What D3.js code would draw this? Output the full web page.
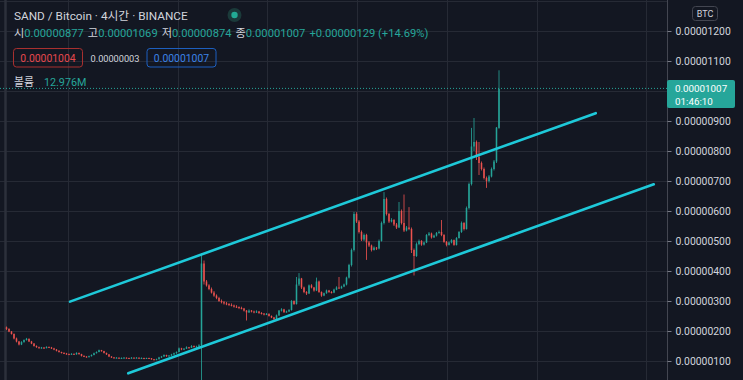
<!DOCTYPE html>
<html>
<head>
<meta charset="utf-8">
<script src="https://cdn.jsdelivr.net/npm/d3@7"></script>
<style>
  html, body { margin: 0; padding: 0; background: #131722; }
  svg { display: block; font-family: Roboto, "Noto Sans CJK KR", sans-serif; }
</style>
</head>
<body>
<div class="chart"></div>
<script>
// prices are in units of 0.00000001 BTC, one row per 4h candle: [open, high, low, close]
var candles = [
  [212,215,203,207],[207,209,196,198],[198,200,188,190],[190,192,172,175],[175,178,162,165],
  [165,167,152,155],[155,166,153,163],[163,172,161,170],[170,177,168,174],[174,175,163,165],
  [165,167,156,158],[158,160,148,150],[150,152,144,146],[146,148,141,143],[143,147,141,145],
  [145,146,140,143],[143,149,142,147],[147,148,143,145],[145,147,140,142],[142,144,136,138],
  [138,140,132,134],[134,136,128,130],[130,131,125,127],[127,129,123,125],[125,127,121,123],
  [123,125,120,122],[122,126,121,124],[124,125,120,122],[122,129,121,127],[127,128,121,123],
  [123,124,115,117],[117,119,113,115],[115,116,111,113],[113,118,112,116],[116,122,115,120],
  [120,128,119,126],[126,132,125,130],[130,138,129,136],[136,137,131,133],[133,134,125,127],
  [127,128,120,122],[122,123,113,115],[115,116,110,112],[112,113,108,110],[110,113,109,111],
  [111,112,107,109],[109,112,108,110],[110,113,109,111],[111,112,108,110],[110,111,107,109],
  [109,113,108,111],[111,112,108,110],[110,113,109,111],[111,112,107,109],[109,112,108,110],
  [110,111,106,108],[108,111,107,110],[110,111,107,109],[109,110,104,106],[106,107,102,104],
  [104,108,103,106],[106,114,105,112],[112,117,110,115],[115,122,114,120],[120,121,114,116],
  [116,120,115,118],[118,124,117,122],[122,128,120,126],[126,132,124,130],[130,145,129,142],
  [142,144,136,139],[139,143,137,141],[141,149,140,146],[146,147,141,144],[144,153,143,150],
  [150,152,145,147],[147,151,145,148],[148,156,147,152],[152,459,25,425],[425,435,355,365],
  [365,370,348,352],[352,356,336,340],[340,345,325,328],[328,333,314,318],[318,322,306,310],
  [310,314,297,300],[300,305,292,296],[296,300,288,292],[292,297,286,290],[290,293,283,287],
  [287,292,282,285],[285,288,278,281],[281,286,277,280],[280,282,273,277],[277,281,272,275],
  [275,277,265,268],[268,270,235,262],[262,272,260,268],[268,270,262,265],[265,268,259,262],
  [262,269,260,265],[265,267,257,260],[260,263,255,258],[258,260,252,255],[255,260,253,257],
  [257,259,248,250],[250,252,243,245],[245,247,230,240],[240,255,238,252],[252,270,250,268],
  [268,276,265,272],[272,274,260,263],[263,268,261,265],[265,273,263,270],[270,303,268,300],
  [300,302,287,290],[290,380,288,355],[355,393,350,375],[375,377,340,345],[345,348,326,330],
  [330,333,320,325],[325,355,323,352],[352,356,342,345],[345,347,331,335],[335,378,333,365],
  [365,368,327,330],[330,332,314,318],[318,328,316,326],[326,338,324,335],[335,337,327,330],
  [330,333,325,328],[328,341,326,338],[338,349,336,345],[345,380,340,342],[342,351,341,348],
  [348,358,346,355],[355,381,352,378],[378,424,375,420],[420,475,415,470],[470,597,465,590],
  [590,596,560,565],[565,570,525,530],[530,535,500,505],[505,525,500,520],[520,524,437,495],
  [495,500,480,485],[485,488,465,470],[470,482,468,478],[478,480,470,475],[475,505,472,500],
  [500,565,498,560],[560,663,555,640],[640,645,585,590],[590,594,560,565],[565,576,562,570],
  [570,573,550,555],[555,560,540,545],[545,630,543,600],[600,605,555,560],[560,655,530,535],
  [535,550,532,545],[545,613,536,540],[540,545,460,470],[470,475,385,450],[450,495,447,490],
  [490,505,486,500],[500,503,484,488],[488,498,485,495],[495,523,493,520],[520,530,516,525],
  [525,528,508,512],[512,521,510,518],[518,530,515,527],[527,535,524,530],[530,570,516,520],
  [520,523,494,497],[497,500,482,487],[487,498,485,495],[495,506,492,503],[503,505,484,487],
  [487,513,485,510],[510,533,508,530],[530,565,527,560],[560,563,535,540],[540,615,538,610],
  [610,695,605,690],[690,877,685,815],[815,910,800,830],[830,835,770,780],[780,830,720,760],
  [760,765,735,740],[740,745,705,710],[710,715,677,700],[700,720,695,715],[715,745,712,740],
  [740,770,735,765],[765,880,760,878],[877,1069,874,1007]
];

// price axis labels (0.00001000 sits under the last-price tag, so it is not shown) and grid
var priceTicks = [100,200,300,400,500,600,700,800,900,1100,1200];
var priceGrid = [100,200,300,400,500,600,700,800,900,1000,1100,1200,1300];
// vertical grid lines, in candle index units
var timeGrid = [-0.8, 24.7, 68.5, 104.2, 140.1, 176.1, 212.1, 255.8];

// parallel channel drawn on the chart: [candle index, price]
var upperLine = [[25.4, 298], [235.7, 926]];
var lowerLine = [[48.7, 59], [258.9, 689]];

var lastPrice = 1007;
var ohlc = [["시", "0.00000877"], ["고", "0.00001069"], ["저", "0.00000874"], ["종", "0.00001007"]];
var change = "+0.00000129 (+14.69%)";

var svgWidth = 743, svgHeight = 380;
var plotRight = 667;

var upColor = "#26a69a", downColor = "#ef5350";
var gridColor = "#262a35";
var textColor = "#d1d4dc";

var svg = d3.select(".chart").append("svg")
  .attr("width", svgWidth)
  .attr("height", svgHeight);

svg.append("rect").attr("width", svgWidth).attr("height", svgHeight).attr("fill", "#131722");

var x = d3.scaleLinear().domain([0, candles.length - 1]).range([6.5, 499]);
var y = d3.scaleLinear().domain([0, 1300]).range([391, 1]);

var fmt = d => (d / 1e8).toFixed(8);

// grid
svg.append("g").selectAll("line").data(priceGrid).enter().append("line")
  .attr("x1", 0).attr("x2", plotRight)
  .attr("y1", d => Math.round(y(d)) + 0.5).attr("y2", d => Math.round(y(d)) + 0.5)
  .attr("stroke", gridColor).attr("stroke-width", 1);

svg.append("g").selectAll("line").data(timeGrid).enter().append("line")
  .attr("x1", d => Math.round(x(d)) + 0.5).attr("x2", d => Math.round(x(d)) + 0.5)
  .attr("y1", 0).attr("y2", svgHeight)
  .attr("stroke", (d, i) => i === 0 ? "#2c303b" : gridColor).attr("stroke-width", (d, i) => i === 0 ? 2.5 : 1);

// candles
var candleG = svg.append("g");
candleG.selectAll("line").data(candles).enter().append("line")
  .attr("x1", (d, i) => x(i)).attr("x2", (d, i) => x(i))
  .attr("y1", d => y(d[1])).attr("y2", d => y(d[2]))
  .attr("stroke", d => d[3] >= d[0] ? upColor : downColor)
  .attr("stroke-width", 0.9)
  .attr("opacity", 0.9);

candleG.selectAll("rect").data(candles).enter().append("rect")
  .attr("x", (d, i) => x(i) - 0.8)
  .attr("width", 1.6)
  .attr("y", d => y(Math.max(d[0], d[3])))
  .attr("height", d => Math.max(1, Math.abs(y(d[0]) - y(d[3]))))
  .attr("fill", d => d[3] >= d[0] ? upColor : downColor)
  .attr("opacity", 0.9);

// channel lines
var line = d3.line().x(d => x(d[0])).y(d => y(d[1]));
[upperLine, lowerLine].forEach(function(pts) {
  svg.append("path").attr("d", line(pts))
    .attr("fill", "none")
    .attr("stroke", "#1ec9d9")
    .attr("stroke-width", 2.6)
    .attr("stroke-linecap", "round");
});

// current price dotted line
svg.append("line")
  .attr("x1", 0).attr("x2", plotRight)
  .attr("y1", y(lastPrice) - 0.5).attr("y2", y(lastPrice) - 0.5)
  .attr("stroke", upColor).attr("stroke-width", 1)
  .attr("stroke-dasharray", "1,2");

// price axis
var axisG = svg.append("g");
axisG.append("rect").attr("x", plotRight).attr("y", 0).attr("width", svgWidth - plotRight).attr("height", svgHeight).attr("fill", "#131722");
axisG.append("line").attr("x1", plotRight + 0.5).attr("x2", plotRight + 0.5).attr("y1", 0).attr("y2", svgHeight)
  .attr("stroke", "#434651").attr("stroke-width", 1);

var yAxis = d3.axisRight(y).tickValues(priceTicks).tickFormat(fmt).tickSize(4).tickPadding(4);
axisG.append("g")
  .attr("transform", `translate(${plotRight + 0.5},0)`)
  .call(yAxis)
  .call(g => g.select(".domain").remove())
  .call(g => g.selectAll(".tick line").attr("stroke", "#787b86"))
  .call(g => g.selectAll(".tick text")
    .attr("fill", textColor)
    .attr("font-size", "10.4px")
    .attr("font-family", "Roboto, sans-serif"));

// BTC currency box
axisG.append("rect").attr("x", 692.5).attr("y", 6.5).attr("width", 25).attr("height", 14).attr("rx", 3)
  .attr("fill", "none").attr("stroke", "#434651");
axisG.append("text").attr("x", 705).attr("y", 17).attr("text-anchor", "middle")
  .attr("fill", textColor).attr("font-size", "9px").text("BTC");

// last price label
var py = y(lastPrice);
axisG.append("rect").attr("x", plotRight).attr("y", py - 9).attr("width", 68).attr("height", 28).attr("rx", 2)
  .attr("fill", upColor);
axisG.append("text").attr("x", plotRight + 8).attr("y", py + 2.8)
  .attr("fill", "#ffffff").attr("font-size", "9.8px").text(fmt(lastPrice));
axisG.append("text").attr("x", plotRight + 8).attr("y", py + 15.8)
  .attr("fill", "#ffffff").attr("font-size", "9.8px").text("01:46:10");

// legend / header
svg.append("text").attr("x", 14).attr("y", 20)
  .attr("fill", textColor).attr("font-size", "11.8px")
  .text("SAND / Bitcoin · 4시간 · BINANCE");
svg.append("circle").attr("cx", 234.5).attr("cy", 15).attr("r", 7).attr("fill", "#1b3a3a");
svg.append("circle").attr("cx", 234.5).attr("cy", 15).attr("r", 3.2).attr("fill", "#22ab94");

var ohlcText = svg.append("text").attr("x", 14).attr("y", 37).attr("font-size", "11.2px");
ohlc.forEach(function(d, i) {
  ohlcText.append("tspan").attr("fill", textColor).attr("dx", i ? 4 : 0).text(d[0]);
  ohlcText.append("tspan").attr("fill", upColor).text(d[1]);
});
ohlcText.append("tspan").attr("fill", upColor).attr("dx", 4).text(change);

svg.append("rect").attr("x", 13.5).attr("y", 48.5).attr("width", 69).attr("height", 18.5).attr("rx", 3)
  .attr("fill", "none").attr("stroke", "#a8302f");
svg.append("text").attr("x", 48).attr("y", 61.5).attr("text-anchor", "middle")
  .attr("fill", "#e5484d").attr("font-size", "10.4px").text("0.00001004");
svg.append("text").attr("x", 115).attr("y", 61.5).attr("text-anchor", "middle")
  .attr("fill", textColor).attr("font-size", "9.2px").text("0.00000003");
svg.append("rect").attr("x", 147).attr("y", 48.5).attr("width", 69).attr("height", 18.5).attr("rx", 3)
  .attr("fill", "none").attr("stroke", "#1d5fbf");
svg.append("text").attr("x", 181.5).attr("y", 61.5).attr("text-anchor", "middle")
  .attr("fill", "#3b82e6").attr("font-size", "10.4px").text("0.00001007");

var vol = svg.append("text").attr("x", 14).attr("y", 85.5).attr("font-size", "10.8px");
vol.append("tspan").attr("fill", textColor).text("볼륨");
vol.append("tspan").attr("fill", upColor).attr("dx", 10).text("12.976M");
</script>
</body>
</html>
